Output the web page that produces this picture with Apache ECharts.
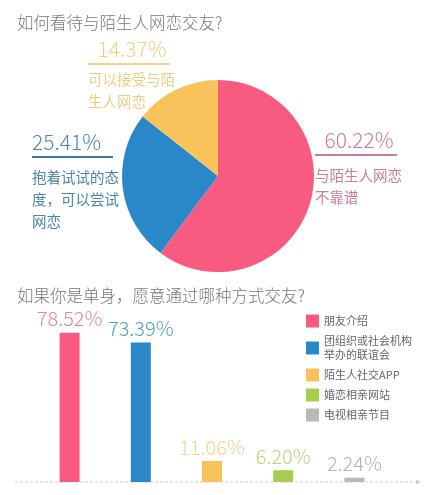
<!DOCTYPE html>
<html><head><meta charset="utf-8">
<script src="https://cdn.jsdelivr.net/npm/echarts@6/dist/echarts.min.js"></script>
<style>html,body{margin:0;padding:0;background:#fff}#c{width:430px;height:495px}</style>
</head><body><div id="c"></div>
<script>
const title1 = '如何看待与陌生人网恋交友?';
const title2 = '如果你是单身，愿意通过哪种方式交友?';
const pieNames = ['与陌生人网恋\n不靠谱', '抱着试试的态\n度，可以尝试\n网恋', '可以接受与陌\n生人网恋'];
const pieValues = [60.22, 25.41, 14.37];
const barCategories = ['朋友介绍', '团组织或社会机构\n举办的联谊会', '陌生人社交APP', '婚恋相亲网站', '电视相亲节目'];
const barValues = [78.52, 73.39, 11.06, 6.20, 2.24];

const CJK = '"Noto Sans CJK SC", "Noto Sans", sans-serif';
const pieColors = ['#f85a80', '#2b88c8', '#f8c35b'];
const pieTextColors = ['#cc7b98', '#4a87a8', '#efcd85'];
const pieLineColors = ['#c47f98', '#3d7c9e', '#f3d28a'];
const barColors = ['#f85a80', '#2b88c8', '#f8c35b', '#a8cc4f', '#b9b9b9'];
const barTextColors = ['#e9849f', '#4f9ac6', '#f1d48e', '#b9d57c', '#b3b3b3'];
const keys = ['a', 'b', 'c'];
const labelPos = [[315, 129], [32, 131], [88, 38]];

const rich = {};
keys.forEach((k, i) => {
  rich[k + 'p'] = { fontFamily: CJK, fontWeight: 300, fontSize: 21, lineHeight: 22, color: pieTextColors[i], align: i === 1 ? 'left' : 'center' };
  rich[k + 'u'] = { width: i === 1 ? 81 : 82, height: 2, lineHeight: 8, backgroundColor: pieLineColors[i], align: 'left' };
  rich[k + 's'] = { fontSize: 1, lineHeight: 5 };
  rich[k + 't'] = { fontFamily: CJK, fontSize: 14.5, lineHeight: 22, color: pieTextColors[i], align: 'left' };
});

const chart = echarts.init(document.getElementById('c'));
chart.setOption({
  backgroundColor: '#fff',
  animation: false,
  title: [
    { text: title1, left: 12, top: 9, textStyle: { fontFamily: CJK, fontSize: 16.5, fontWeight: 300, color: '#777' } },
    { text: title2, left: 12, top: 282, textStyle: { fontFamily: CJK, fontSize: 16.5, fontWeight: 300, color: '#777' } }
  ],
  legend: {
    data: barCategories, orient: 'vertical', left: 301, top: 309,
    icon: 'rect', itemWidth: 13, itemHeight: 13, itemGap: 6,
    textStyle: { fontFamily: CJK, fontSize: 11, lineHeight: 14, color: '#666' }
  },
  grid: { left: 34, right: 40, top: 292, bottom: 13 },
  xAxis: { type: 'category', data: barCategories, axisLine: { show: false }, axisTick: { show: false }, axisLabel: { show: false } },
  yAxis: { type: 'value', min: 0, max: 100, show: false, splitLine: { show: false } },
  graphic: [
    { type: 'line', shape: { x1: 15, y1: 482, x2: 417, y2: 482 }, style: { stroke: '#cdcdcd', lineWidth: 1, lineDash: [3, 2] }, z: 0 },
    { type: 'polygon', shape: { points: [[416, 479.5], [421, 482], [416, 484.5]] }, style: { fill: '#cdcdcd' } }
  ],
  series: [
    {
      type: 'pie', center: [218, 176], radius: 96, startAngle: 90, clockwise: true,
      avoidLabelOverlap: false,
      data: pieNames.map((n, i) => ({ name: n, value: pieValues[i], itemStyle: { color: pieColors[i] } })),
      label: {
        show: true, position: 'outside', width: 88,
        formatter: p => {
          const k = keys[p.dataIndex];
          const sp = p.dataIndex === 2 ? '' : '{' + k + 's| }\n';
          return '{' + k + 'p|' + p.value.toFixed(2) + '%}\n{' + k + 'u|}\n' + sp + '{' + k + 't|' + p.name + '}';
        },
        rich: rich
      },
      labelLine: { show: false },
      labelLayout: params => ({ x: labelPos[params.dataIndex][0], y: labelPos[params.dataIndex][1], align: 'left', verticalAlign: 'top' }),
      emphasis: { disabled: true }
    }
  ].concat(barCategories.map((name, i) => ({
    type: 'bar', name: name, barWidth: 20, barGap: '-100%',
    data: barValues.map((v, j) => j === i ? v : '-'),
    itemStyle: { color: barColors[i] },
    label: {
      show: true, position: 'top', distance: 4,
      formatter: p => p.value.toFixed(2) + '%',
      fontFamily: CJK, fontWeight: 300, fontSize: 20, color: barTextColors[i]
    }
  })))
});
</script>
</body></html>
